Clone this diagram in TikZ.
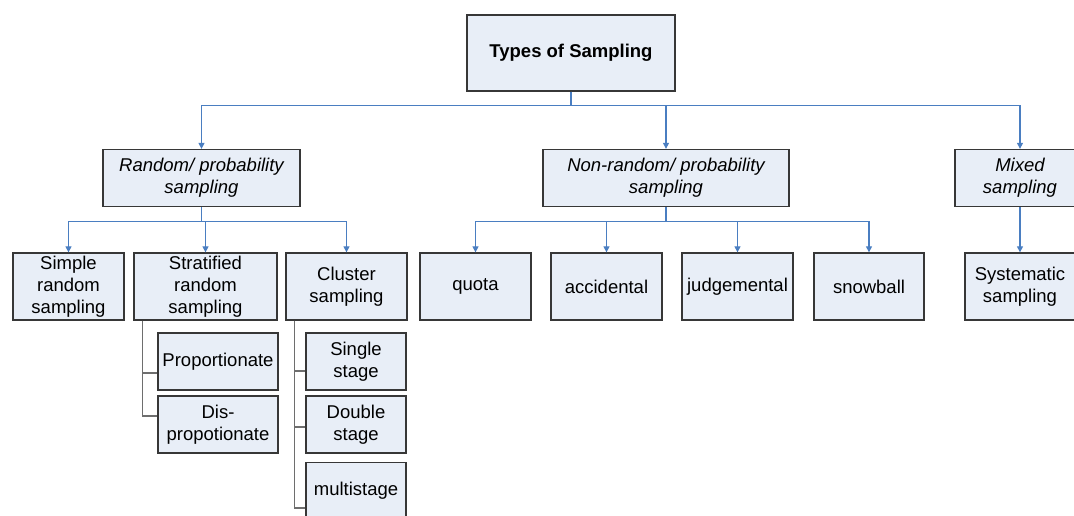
\documentclass[tikz,border=0pt]{standalone}
\usepackage{fontspec}
\setmainfont{Liberation Sans}
\usetikzlibrary{arrows.meta,positioning,calc}
\definecolor{boxfill}{RGB}{232,238,247}
\definecolor{boxline}{RGB}{55,55,55}
\definecolor{linkblue}{RGB}{74,126,193}
\definecolor{subgray}{RGB}{110,110,110}

\begin{document}
\begin{tikzpicture}[x=1pt,y=-1pt]

		\tikzset{box/.style={draw=boxline,fill=boxfill,line width=1.3pt,align=center,inner sep=1pt,
				font=\fontsize{18.5}{22}\selectfont}}
		\tikzset{link/.style={draw=linkblue,line width=1.2pt,-{Triangle[width=6pt,length=6pt]}}}
		\tikzset{subline/.style={draw=subgray,line width=1.2pt}}

		\useasboundingbox (0,0) rectangle (1074,516);

		% level 0 and 1
		\node[box,minimum width=208pt,minimum height=76pt,font=\fontsize{18.5}{22}\selectfont\bfseries] (top) at (571,53) {Types of Sampling};

		\node[box,minimum width=197pt,minimum height=57pt] (rand) at (201.5,178) {\itshape Random/ probability\\\itshape sampling};
		\node[box,minimum width=246pt,minimum height=57pt] (nonrand) at (666,178) {\itshape Non-random/ probability\\\itshape sampling};
		\node[box,minimum width=130pt,minimum height=57pt] (mixed) at (1020,178) {\itshape Mixed\\\itshape sampling};

		% level 2
		\node[box,minimum width=111pt,minimum height=67pt] (simple) at (68.5,286.5) {Simple\\random\\sampling};
		\node[box,minimum width=143pt,minimum height=67pt] (strat) at (205.5,286.5) {Stratified\\random\\sampling};
		\node[box,minimum width=121pt,minimum height=67pt] (clus) at (346.5,286.5) {Cluster\\sampling};

		\node[box,minimum width=111pt,minimum height=67pt] (quota) at (475.5,286.5) {quota};
		\node[box,minimum width=111pt,minimum height=67pt] (accid) at (606.5,286.5) {accidental};
		\node[box,minimum width=111pt,minimum height=67pt] (judg) at (737.5,286.5) {judgemental};
		\node[box,minimum width=110pt,minimum height=67pt] (snow) at (869,286.5) {snowball};

		\node[box,minimum width=110pt,minimum height=67pt] (syst) at (1020,286.5) {Systematic\\sampling};

		% level 3
		\node[box,minimum width=120pt,minimum height=57pt] (prop) at (218,361.5) {Proportionate};
		\node[box,minimum width=120pt,minimum height=57pt] (disprop) at (218,424.5) {Dis-\\propotionate};

		\node[box,minimum width=100pt,minimum height=57pt] (single) at (356,361.5) {Single\\stage};
		\node[box,minimum width=100pt,minimum height=57pt] (double) at (356,424.5) {Double\\stage};
		\node[box,minimum width=100pt,minimum height=57pt] (multi) at (356,491) {multistage};

		% arrows
		\foreach \child in {rand,nonrand,mixed}
			\path[link] (top.south) -- ++(0,14) -| (\child.north);
		\foreach \child in {simple,strat,clus}
			\path[link] (rand.south) -- ++(0,14) -| (\child.north);
		\foreach \child in {quota,accid,judg,snow}
			\path[link] (nonrand.south) -- ++(0,14) -| (\child.north);
		\path[link] (mixed) -- (syst);

		% sub lines
		\path[subline] ([xshift=9pt]strat.south west) |- ([yshift=-11.5pt]prop.west);
		\path[subline] ([xshift=9pt]strat.south west) |- ([yshift=8.5pt]disprop.west);
		\path[subline] ([xshift=9pt]clus.south west) |- ([yshift=-9.5pt]single.west);
		\path[subline] ([xshift=9pt]clus.south west) |- ([yshift=-2.5pt]double.west);
		\path[subline] ([xshift=9pt]clus.south west) |- ([yshift=-17pt]multi.west);

	\end{tikzpicture}
\end{document}
